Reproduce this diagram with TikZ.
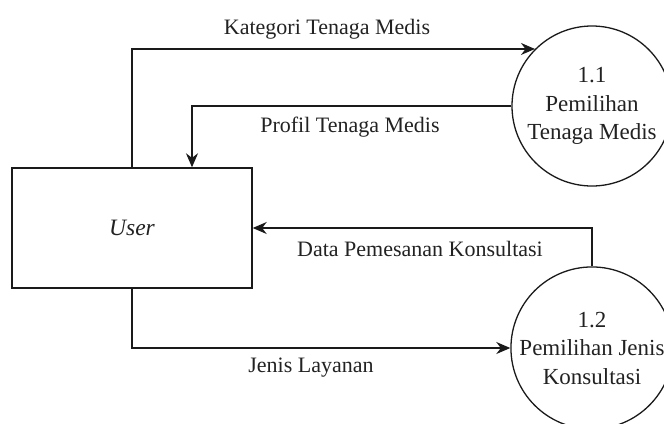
\documentclass[tikz,border=0pt]{standalone}
\usepackage{fontspec}
\setmainfont{Liberation Serif}
\usepackage{xcolor}
\usepackage{tikz}
\usetikzlibrary{calc,arrows.meta}
\definecolor{ink}{HTML}{1A1A1A}
\definecolor{txt}{HTML}{222222}
\tikzset{
  entity/.style={draw=ink, line width=1.4bp, minimum width=240bp, minimum height=120bp, inner sep=0pt},
  proc/.style={draw=ink, circle, line width=1.3bp, minimum size=160bp, inner sep=0pt, align=center, text=txt, font=\fontsize{23bp}{28.5bp}\selectfont},
  flow/.style={draw=ink, line width=1.4bp, -{Stealth[length=14bp,width=12bp]}},
  lab/.style={text=txt, font=\fontsize{22bp}{25bp}\selectfont, inner sep=0pt},
}

\begin{document}
\begin{tikzpicture}[x=1bp,y=-1bp]
  \useasboundingbox (0,0) rectangle (664,423);
  \node[entity] (user) at (132,228) {};
  \node[lab, font=\fontsize{23.5bp}{25bp}\selectfont] (userlab) at (user.center) {\itshape User};
  \node[proc] (p11) at (592,106) {1.1\\Pemilihan\\Tenaga Medis};
  \node[proc] (p12) at (592,348) {1.2\\Pemilihan Jenis\\Konsultasi};
  \coordinate (profin) at ($(user.north)+(60,0)$);
  \draw[flow] (user.north) |- (p11.135);
  \draw[flow] (p11.west) -| (profin);
  \draw[flow] (p12.north) |- (user.east);
  \draw[flow] (user.south) |- (p12.west);
  \node[lab] (katlab) at (327,29) {Kategori Tenaga Medis};
  \node[lab] (proflab) at (350,127) {Profil Tenaga Medis};
  \node[lab] (datalab) at (420,249) {Data Pemesanan Konsultasi};
  \node[lab] (jenislab) at (311,368) {Jenis Layanan};
\end{tikzpicture}
\end{document}
